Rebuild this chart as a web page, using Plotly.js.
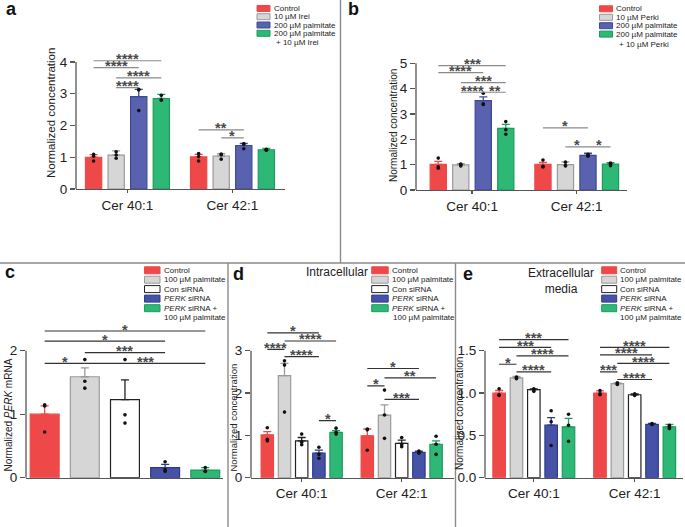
<!DOCTYPE html>
<html><head><meta charset="utf-8">
<script src="https://cdn.plot.ly/plotly-3.0.1.min.js"></script>
<style>html,body{margin:0;padding:0;background:#fff}</style>
</head><body><div id="chart" style="width:685px;height:527px"></div>
<script>
const W = 685, H = 527;
const FONT = 'Liberation Sans, Arial, Helvetica, sans-serif';

// ---------------- DATA ----------------
const catsAB = ['Cer 40:1', 'Cer 42:1'];
const catsC = ['PERK'];
const catsDE = ['Cer 40:1', 'Cer 42:1'];

const legendA = ['Control', '10 µM Irei', '200 µM palmitate', '200 µM palmitate'];
const legendAExtra = '+ 10 µM Irei';
const legendB = ['Control', '10 µM Perki', '200 µM palmitate', '200 µM palmitate'];
const legendBExtra = '+ 10 µM Perki';
const legendCDE = ['Control', '100 µM palmitate', 'Con siRNA', '<i>PERK</i> siRNA', '<i>PERK</i> siRNA +'];
const legendCDEExtra = '100 µM palmitate';

// means[group][category]
const aMeans = [[1.00, 1.01], [1.07, 1.04], [2.91, 1.37], [2.85, 1.23]];
const aErr   = [[0.08, 0.08], [0.13, 0.07], [0.23, 0.07], [0.13, 0.05]];
const aDots  = [[[1.09, 0.88, 1.03], [1.12, 0.88, 1.02]],
                [[1.17, 1.07, 0.97], [1.10, 0.94, 1.08]],
                [[3.14, 2.47, 3.12], [1.42, 1.27, 1.42]],
                [[2.95, 2.80, 2.80], [1.25, 1.22, 1.23]]];
// [category, group1, group2, y, label]
const aSig = [[0, 0, 3, 4.04, '****'], [0, 0, 2, 3.82, '****'], [0, 1, 3, 3.50, '****'],
              [0, 1, 2, 3.19, '****'], [1, 0, 2, 1.86, '**'], [1, 1, 2, 1.61, '*']];

const bMeans = [[1.01, 1.01], [0.99, 1.00], [3.53, 1.37], [2.43, 1.02]];
const bErr   = [[0.12, 0.08], [0.05, 0.11], [0.15, 0.08], [0.16, 0.06]];
const bDots  = [[[1.26, 0.86, 0.92], [1.18, 0.91, 0.94]],
                [[1.00, 0.95, 1.02], [1.10, 0.95, 0.97]],
                [[3.40, 3.38, 3.82], [1.41, 1.33, 1.37]],
                [[2.70, 2.38, 2.20], [1.06, 0.96, 1.03]]];
const bSig = [[0, 0, 3, 4.91, '***'], [0, 0, 2, 4.63, '****'], [0, 1, 3, 4.24, '***'],
              [0, 1, 2, 3.86, '****'], [0, 2, 3, 3.86, '**'], [1, 0, 2, 2.45, '*'],
              [1, 1, 2, 1.70, '*'], [1, 2, 3, 1.70, '*']];

const cMeans = [[1.00], [1.59], [1.23], [0.16], [0.12]];
const cErr   = [[0.13], [0.14], [0.31], [0.05], [0.04]];
const cDots  = [[[1.13, 0.72, 1.15]], [[1.86, 1.52, 1.41]], [[1.86, 0.99, 0.86]],
                [[0.25, 0.10, 0.13]], [[0.16, 0.10, 0.10]]];
const cSig = [[0, 0, 4, 2.31, '*'], [0, 0, 3, 2.15, '*'], [0, 1, 3, 1.97, '***'],
              [0, 0, 1, 1.80, '*'], [0, 1, 4, 1.80, '***']];

const dMeans = [[1.01, 0.99], [2.41, 1.48], [0.87, 0.81], [0.58, 0.60], [1.07, 0.79]];
const dErr   = [[0.08, 0.16], [0.29, 0.24], [0.08, 0.08], [0.07, 0.03], [0.04, 0.08]];
const dDots  = [[[1.18, 0.87, 0.91], [1.15, 1.13, 0.65]],
                [[2.76, 2.66, 1.55], [2.07, 1.48, 0.93]],
                [[1.03, 0.84, 0.78], [0.95, 0.78, 0.73]],
                [[0.72, 0.55, 0.46], [0.63, 0.58, 0.60]],
                [[1.17, 1.07, 1.03], [0.98, 0.79, 0.55]]];
const dSig = [[0, 0, 3, 3.42, '*'], [0, 1, 4, 3.23, '****'], [0, 0, 1, 3.03, '****'],
              [0, 1, 3, 2.86, '****'], [0, 3, 4, 1.35, '*'], [1, 0, 3, 2.58, '*'],
              [1, 1, 4, 2.36, '**'], [1, 0, 1, 2.17, '*'], [1, 1, 3, 1.85, '***']];

const eMeans = [[1.00, 1.00], [1.18, 1.11], [1.04, 0.98], [0.62, 0.63], [0.60, 0.60]];
const eErr   = [[0.03, 0.025], [0.015, 0.01], [0.01, 0.01], [0.09, 0.01], [0.10, 0.03]];
const eDots  = [[[1.05, 0.97, 0.98], [1.03, 0.98, 0.99]],
                [[1.19, 1.18, 1.17], [1.11, 1.10, 1.12]],
                [[1.05, 1.04, 1.02], [0.98, 0.97, 0.99]],
                [[0.79, 0.66, 0.38], [0.63, 0.63, 0.64]],
                [[0.75, 0.62, 0.43], [0.62, 0.58, 0.60]]];
const eSig = [[0, 0, 4, 1.63, '***'], [0, 0, 3, 1.54, '***'], [0, 1, 4, 1.44, '****'],
              [0, 0, 1, 1.34, '*'], [0, 1, 3, 1.25, '****'], [1, 0, 4, 1.54, '****'],
              [1, 0, 3, 1.45, '****'], [1, 1, 4, 1.35, '****'], [1, 0, 1, 1.25, '***'],
              [1, 1, 3, 1.16, '****']];

// ---------------- STYLE ----------------
const RED = '#EF4848', GRAY = '#D6D6D6', WHITE = '#FFFFFF', BLUE_AB = '#5862AE', BLUE_C = '#4552A6', GREEN = '#2DB875';
const fillAB = [RED, GRAY, BLUE_AB, GREEN];
const lineAB = [RED, '#9A9A9A', '#3E4A98', '#1E9A5E'];
const fillC = [RED, GRAY, WHITE, BLUE_C, GREEN];
const lineC = [RED, '#9A9A9A', '#222222', '#2C3A8C', '#1E9A5E'];
const BARGAP = 0.14, GROUPGAP = 0.28;

const panels = [
  {id: '', cats: catsAB, means: aMeans, err: aErr, dots: aDots, sig: aSig, fill: fillAB, line: lineAB,
   xpx: [76, 285], y0: 189, ppu: 31.75, ymax: 4.4, ytop: 4, tickvals: [0, 1, 2, 3, 4], xrange: [-0.49, 1.5],
   sigColor: '#8a8a8a', title: 'Normalized concentration', tx: 51, ty: 113, tsize: 11.5, showx: true,
   legend: legendA, legendExtra: legendAExtra, lx: 257, lw: 13, lh: 6, ly: [8.5, 16.7, 25, 33.3], lextra: 43, lxe: 274,
   letter: 'a', letx: 4, lety: 9},
  {id: '2', cats: catsAB, means: bMeans, err: bErr, dots: bDots, sig: bSig, fill: fillAB, line: lineAB,
   xpx: [416, 627], y0: 190, ppu: 25.33, ymax: 5.3, ytop: 5, tickvals: [0, 1, 2, 3, 4, 5], xrange: [-0.535, 1.48],
   sigColor: '#8a8a8a', title: 'Normalized concentration', tx: 394, ty: 126, tsize: 10, showx: true,
   legend: legendB, legendExtra: legendBExtra, lx: 599.5, lw: 13, lh: 6, ly: [8.8, 17.3, 25.7, 34.1], lextra: 44, lxe: 616.5,
   letter: 'b', letx: 346, lety: 9},
  {id: '3', cats: catsC, means: cMeans, err: cErr, dots: cDots, sig: cSig, fill: fillC, line: lineC,
   xpx: [26, 223], y0: 477.7, ppu: 63.5, ymax: 2.5, ytop: 2, tickvals: [0, 1, 2], xrange: [-0.424, 0.42],
   sigColor: '#333', title: 'Normalized <i>PERK</i> mRNA', tx: 7.5, ty: 415, tsize: 10, showx: false,
   legend: legendCDE, legendExtra: legendCDEExtra, lx: 144.5, lw: 15.5, lh: 7, ly: [270.3, 279.7, 289.1, 298.6, 308.2], lextra: 317.7, lxe: 162.3,
   letter: 'c', letx: 3, lety: 272},
  {id: '4', cats: catsDE, means: dMeans, err: dErr, dots: dDots, sig: dSig, fill: fillC, line: lineC,
   xpx: [251, 454], y0: 477.7, ppu: 42.33, ymax: 3.7, ytop: 3, tickvals: [0, 1, 2, 3], xrange: [-0.507, 1.523],
   sigColor: '#333', title: 'Normalized concentration', tx: 233, ty: 417.5, tsize: 9.5, showx: true,
   legend: legendCDE, legendExtra: legendCDEExtra, lx: 371.7, lw: 16.5, lh: 7, ly: [270.3, 279.7, 289.1, 298.6, 308.2], lextra: 317.7, lxe: 390.7,
   letter: 'd', letx: 231, lety: 274},
  {id: '5', cats: catsDE, means: eMeans, err: eErr, dots: eDots, sig: eSig, fill: fillC, line: lineC,
   xpx: [485, 683], y0: 477.7, ppu: 84.67, ymax: 1.75, ytop: 1.5, tickvals: [0, 0.5, 1, 1.5], xrange: [-0.484, 1.479],
   sigColor: '#333', title: 'Normalized concentration', tx: 459, ty: 414, tsize: 10, showx: true,
   legend: legendCDE, legendExtra: legendCDEExtra, lx: 601.7, lw: 15, lh: 7, ly: [270.3, 279.7, 289.1, 298.6, 308.2], lextra: 317.7, lxe: 618.3,
   letter: 'e', letx: 461, lety: 274, tickformat: '.1f'}
];

const traces = [];
const shapes = [];
const annotations = [];
const layout = {
  width: W, height: H, margin: {l: 0, r: 0, t: 0, b: 0},
  paper_bgcolor: '#fff', plot_bgcolor: 'rgba(0,0,0,0)',
  barmode: 'group', bargap: BARGAP, bargroupgap: GROUPGAP,
  scattermode: 'group', scattergap: BARGAP,
  showlegend: false, hovermode: false,
  font: {family: FONT, color: '#222'}
};

const px = x => x / W;
const py = y => 1 - y / H;

panels.forEach(p => {
  const xa = 'x' + p.id, ya = 'y' + p.id;
  const xk = 'xaxis' + p.id, yk = 'yaxis' + p.id;
  const n = p.means.length;
  const slot = (1 - BARGAP) / n;
  const off = g => (g - (n - 1) / 2) * slot;

  layout[xk] = {
    domain: [px(p.xpx[0]), px(p.xpx[1])], anchor: ya, type: 'category', range: p.xrange,
    showline: true, linecolor: '#555', linewidth: 1.3, ticks: p.showx ? 'outside' : '', ticklen: 3,
    tickcolor: '#555', tickwidth: 1.2, showgrid: false, zeroline: false,
    showticklabels: p.showx, tickfont: {family: FONT, size: 13.5, color: '#222'}, fixedrange: true
  };
  layout[yk] = {
    domain: [py(p.y0), py(p.y0 - p.ymax * p.ppu)], anchor: xa, range: [0, p.ymax],
    showline: false, ticks: 'outside', ticklen: 5, tickcolor: '#555', tickwidth: 1.2,
    tickvals: p.tickvals, tickformat: p.tickformat || '', showgrid: false, zeroline: false,
    tickfont: {family: FONT, size: 13.5, color: '#222'}, fixedrange: true
  };
  // y axis line up to the top tick
  shapes.push({type: 'line', xref: xa + ' domain', yref: ya + ' domain', x0: 0, x1: 0, y0: 0, y1: p.ytop / p.ymax,
               line: {color: '#555', width: 1.3}});

  for (let g = 0; g < n; g++) {
    traces.push({
      type: 'bar', x: p.cats, y: p.means[g], xaxis: xa, yaxis: ya,
      marker: {color: p.fill[g], line: {color: p.line[g], width: 1.2}},
      error_y: {type: 'data', symmetric: false, array: p.err[g], arrayminus: p.err[g].map(() => 0),
                color: p.line[g], thickness: 1.3, width: 4}
    });
  }
  for (let g = 0; g < n; g++) {
    const xs = [], ys = [];
    p.dots[g].forEach((arr, c) => arr.forEach(v => { xs.push(p.cats[c]); ys.push(v); }));
    traces.push({
      type: 'scatter', mode: 'markers', x: xs, y: ys, xaxis: xa, yaxis: ya,
      marker: {color: '#111', size: 3.6}, cliponaxis: false
    });
  }
  p.sig.forEach(([c, g1, g2, y, lab]) => {
    shapes.push({type: 'line', xref: xa, yref: ya, x0: c + off(g1), x1: c + off(g2), y0: y, y1: y,
                 line: {color: p.sigColor, width: 1.2}});
    annotations.push({xref: xa, yref: ya, x: c + (off(g1) + off(g2)) / 2, y: y, text: '<b>' + lab + '</b>', showarrow: false,
                      yanchor: 'middle', yshift: 1.5, borderpad: 0, font: {family: FONT, size: 14.5, color: '#4a4a4a'}});
  });

  // axis title
  annotations.push({xref: 'paper', yref: 'paper', x: px(p.tx), y: py(p.ty), text: p.title, textangle: -90,
                    showarrow: false, xanchor: 'center', yanchor: 'middle', font: {family: FONT, size: p.tsize, color: '#222'}});
  // panel letter
  annotations.push({xref: 'paper', yref: 'paper', x: px(p.letx), y: py(p.lety), text: '<b>' + p.letter + '</b>',
                    showarrow: false, xanchor: 'left', yanchor: 'middle', font: {family: FONT, size: 18, color: '#111'}});
  // legend
  p.legend.forEach((lab, g) => {
    const cy = p.ly[g];
    shapes.push({type: 'rect', xref: 'paper', yref: 'paper', x0: px(p.lx), x1: px(p.lx + p.lw),
                 y0: py(cy + p.lh / 2), y1: py(cy - p.lh / 2), fillcolor: p.fill[g],
                 line: {color: p.line[g], width: 1}});
    annotations.push({xref: 'paper', yref: 'paper', x: px(p.lx + p.lw + 1.5), y: py(cy), text: lab, showarrow: false,
                      xanchor: 'left', yanchor: 'middle', font: {family: FONT, size: 8, color: '#222'}});
  });
  annotations.push({xref: 'paper', yref: 'paper', x: px(p.lxe), y: py(p.lextra), text: p.legendExtra, showarrow: false,
                    xanchor: 'left', yanchor: 'middle', font: {family: FONT, size: 8, color: '#222'}});
});

// sub-panel titles
annotations.push({xref: 'paper', yref: 'paper', x: px(337), y: py(272), text: 'Intracellular', showarrow: false,
                  xanchor: 'center', yanchor: 'middle', font: {family: FONT, size: 12, color: '#222'}});
annotations.push({xref: 'paper', yref: 'paper', x: px(561), y: py(280.5), text: 'Extracellular<br>media', showarrow: false,
                  xanchor: 'center', yanchor: 'middle', font: {family: FONT, size: 12, color: '#222'}});

// panel separators
const SEP = {color: '#8a8a8a', width: 1.4};
shapes.push({type: 'line', xref: 'paper', yref: 'paper', x0: 0, x1: 1, y0: py(263), y1: py(263), line: SEP});
shapes.push({type: 'line', xref: 'paper', yref: 'paper', x0: px(340.5), x1: px(340.5), y0: 1, y1: py(263), line: SEP});
shapes.push({type: 'line', xref: 'paper', yref: 'paper', x0: px(228), x1: px(228), y0: py(263), y1: 0, line: SEP});
shapes.push({type: 'line', xref: 'paper', yref: 'paper', x0: px(455.5), x1: px(455.5), y0: py(263), y1: 0, line: SEP});

layout.shapes = shapes;
layout.annotations = annotations;
Plotly.newPlot('chart', traces, layout, {staticPlot: true, displayModeBar: false});
</script></body></html>
